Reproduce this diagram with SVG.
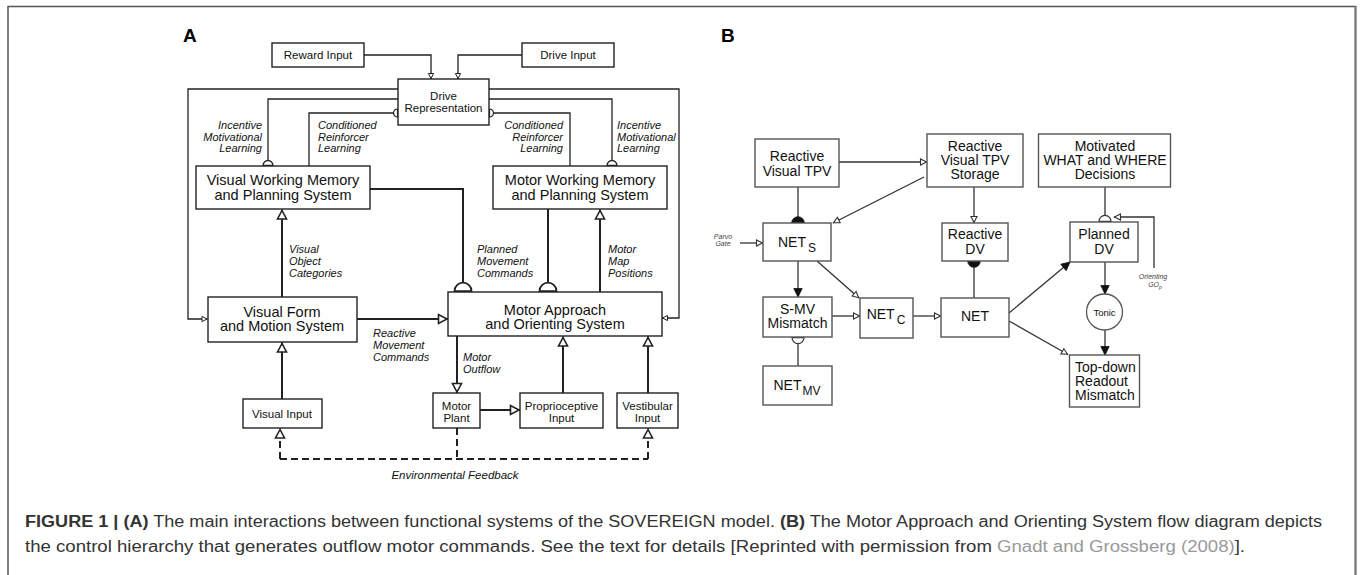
<svg xmlns="http://www.w3.org/2000/svg" width="1360" height="575" viewBox="0 0 1360 575">
  <style>
    text { font-family: "Liberation Sans", Arial, Helvetica, sans-serif; fill: #111; }
    .frame { fill: none; stroke: #555; stroke-width: 1.5; }
    .boxA { fill: #fff; stroke: #222; stroke-width: 1.4; }
    .boxB { fill: #fff; stroke: #555; stroke-width: 1.4; }
    .big { font-size: 14.5px; text-anchor: middle; }
    .small { font-size: 11.5px; text-anchor: middle; }
    .lbl { font-size: 11px; font-style: italic; }
    .mid { font-size: 14px; text-anchor: middle; }
    .tiny { font-size: 7px; font-style: italic; fill: #444; }
    .thin { fill: none; stroke: #222; stroke-width: 1.3; }
    .thick { fill: none; stroke: #222; stroke-width: 2; }
    .dash { fill: none; stroke: #222; stroke-width: 2; stroke-dasharray: 7 4; }
    .lnB { fill: none; stroke: #333; stroke-width: 1.3; }
    .panel { font-size: 19px; font-weight: bold; fill: #000; }
    .cap { font-size: 16px; fill: #333; }
  </style>
  <defs>
    <!-- open triangle, large (panel A main pathways) -->
    <marker id="triA" viewBox="-11 -6 12 12" refX="0" refY="0" markerWidth="12" markerHeight="12" markerUnits="userSpaceOnUse" orient="auto">
      <path d="M-1,0 L-9.5,-4.5 L-9.5,4.5 Z" fill="#fff" stroke="#222" stroke-width="1.6"/>
    </marker>
    <!-- open triangle, small -->
    <marker id="triS" viewBox="-7 -4 8 8" refX="0" refY="0" markerWidth="8" markerHeight="8" markerUnits="userSpaceOnUse" orient="auto">
      <path d="M-0.5,0 L-5.5,-2.6 L-5.5,2.6 Z" fill="#fff" stroke="#222" stroke-width="1"/>
    </marker>
    <!-- open triangle, small (panel B) -->
    <marker id="triB" viewBox="-8 -5 9 10" refX="0" refY="0" markerWidth="9" markerHeight="10" markerUnits="userSpaceOnUse" orient="auto">
      <path d="M-0.5,0 L-6.5,-3 L-6.5,3 Z" fill="#fff" stroke="#333" stroke-width="1.1"/>
    </marker>
    <!-- filled triangle (panel B) -->
    <marker id="triF" viewBox="-10 -6 11 12" refX="0" refY="0" markerWidth="11" markerHeight="12" markerUnits="userSpaceOnUse" orient="auto">
      <path d="M0,0 L-8.5,-4.2 L-8.5,4.2 Z" fill="#111" stroke="#111" stroke-width="0.8"/>
    </marker>
    <!-- half-disc terminals -->
    <marker id="domeS" viewBox="-7 -7 8 14" refX="0" refY="0" markerWidth="8" markerHeight="14" markerUnits="userSpaceOnUse" orient="auto">
      <path d="M-0.5,-5 A5,5 0 0 0 -0.5,5 Z" fill="#fff" stroke="#222" stroke-width="1.3"/>
    </marker>
    <marker id="domeL" viewBox="-11 -11 12 22" refX="0" refY="0" markerWidth="12" markerHeight="22" markerUnits="userSpaceOnUse" orient="auto">
      <path d="M-0.8,-8.5 A8.5,8.5 0 0 0 -0.8,8.5 Z" fill="#fff" stroke="#222" stroke-width="1.8"/>
    </marker>
    <marker id="domeSide" viewBox="-6 -6 7 12" refX="0" refY="0" markerWidth="7" markerHeight="12" markerUnits="userSpaceOnUse" orient="auto">
      <path d="M-0.5,-4 A4,4 0 0 0 -0.5,4 Z" fill="#fff" stroke="#222" stroke-width="1.2"/>
    </marker>
    <marker id="domeF" viewBox="-8 -8 9 16" refX="0" refY="0" markerWidth="9" markerHeight="16" markerUnits="userSpaceOnUse" orient="auto">
      <path d="M0,-6.3 A6.3,6.3 0 0 0 0,6.3 Z" fill="#111" stroke="#111" stroke-width="0.8"/>
    </marker>
    <marker id="domeO" viewBox="-8 -8 9 16" refX="0" refY="0" markerWidth="9" markerHeight="16" markerUnits="userSpaceOnUse" orient="auto">
      <path d="M-0.6,-6 A6,6 0 0 0 -0.6,6 Z" fill="#fff" stroke="#333" stroke-width="1.2"/>
    </marker>
  </defs>

  <rect width="1360" height="575" fill="#fff"/>

  <!-- figure frame -->
  <path class="frame" d="M8,580 V6.5 H1355.5 V580"/>
  <path d="M1355.5,6 V580" stroke="#777" stroke-width="2" fill="none"/>

  <!-- panel letters -->
  <text class="panel" x="183" y="42">A</text>
  <text class="panel" x="721" y="42">B</text>

  <!-- ========== Panel A connectors ========== -->
  <g id="connectors-A">
    <path class="thin" d="M364,55 H431 V79" marker-end="url(#triS)"/>
    <path class="thin" d="M522,55 H458 V79" marker-end="url(#triS)"/>
    <path class="thin" d="M398,89 H188 V319 H207.5" marker-end="url(#triS)"/>
    <path class="thin" d="M489,89 H679 V318 H662" marker-end="url(#triS)"/>
    <path class="thin" d="M398,99 H268 V166" marker-end="url(#domeS)"/>
    <path class="thin" d="M489,99 H612 V166" marker-end="url(#domeS)"/>
    <path class="thin" d="M309,166 V113 H398" marker-end="url(#domeSide)"/>
    <path class="thin" d="M570,166 V113 H489" marker-end="url(#domeSide)"/>
    <path class="thick" d="M370,189 H463 V292" marker-end="url(#domeL)"/>
    <path class="thick" d="M548,209 V292" marker-end="url(#domeL)"/>
    <path class="thick" d="M600,292 V209.5" marker-end="url(#triA)"/>
    <path class="thick" d="M282,297 V209.5" marker-end="url(#triA)"/>
    <path class="thick" d="M357,319 H448" marker-end="url(#triA)"/>
    <path class="thick" d="M457,336 V393" marker-end="url(#triA)"/>
    <path class="thick" d="M480,410 H520" marker-end="url(#triA)"/>
    <path class="thick" d="M563,393 V336.5" marker-end="url(#triA)"/>
    <path class="thick" d="M648,393 V336.5" marker-end="url(#triA)"/>
    <path class="thick" d="M282,399 V342.5" marker-end="url(#triA)"/>
    <path class="dash" d="M457,428 V459 M280,459 H648"/>
    <path class="dash" d="M280,459 V428.5" marker-end="url(#triA)"/>
    <path class="dash" d="M648,459 V428.5" marker-end="url(#triA)"/>
  </g>

  <!-- Panel A connector labels -->
  <g id="labels-A" class="lbl">
    <text x="262" y="129" text-anchor="end">Incentive</text>
    <text x="262" y="141" text-anchor="end">Motivational</text>
    <text x="262" y="152" text-anchor="end">Learning</text>
    <text x="318" y="129">Conditioned</text>
    <text x="318" y="141">Reinforcer</text>
    <text x="318" y="152">Learning</text>
    <text x="563" y="129" text-anchor="end">Conditioned</text>
    <text x="563" y="141" text-anchor="end">Reinforcer</text>
    <text x="563" y="152" text-anchor="end">Learning</text>
    <text x="617" y="129">Incentive</text>
    <text x="617" y="141">Motivational</text>
    <text x="617" y="152">Learning</text>
    <text x="289" y="253">Visual</text>
    <text x="289" y="265">Object</text>
    <text x="289" y="277">Categories</text>
    <text x="477" y="253">Planned</text>
    <text x="477" y="265">Movement</text>
    <text x="477" y="277">Commands</text>
    <text x="608" y="253">Motor</text>
    <text x="608" y="265">Map</text>
    <text x="608" y="277">Positions</text>
    <text x="373" y="337">Reactive</text>
    <text x="373" y="349">Movement</text>
    <text x="373" y="361">Commands</text>
    <text x="463" y="361">Motor</text>
    <text x="463" y="373">Outflow</text>
    <text x="455" y="479" text-anchor="middle" font-size="11.5">Environmental Feedback</text>
  </g>

  <!-- ========== Panel A nodes ========== -->
  <g id="reward-input">
    <rect class="boxA" x="272" y="43" width="92" height="24"/>
    <text class="small" x="318" y="59">Reward Input</text>
  </g>
  <g id="drive-input">
    <rect class="boxA" x="522" y="43" width="92" height="24"/>
    <text class="small" x="568" y="59">Drive Input</text>
  </g>
  <g id="drive-representation">
    <rect class="boxA" x="398" y="79" width="91" height="46"/>
    <text class="small" x="443.5" y="100">Drive</text>
    <text class="small" x="443.5" y="111.5">Representation</text>
  </g>
  <g id="visual-wm">
    <rect class="boxA" x="196" y="166" width="174" height="43"/>
    <text class="big" x="283" y="185">Visual Working Memory</text>
    <text class="big" x="283" y="199.5">and Planning System</text>
  </g>
  <g id="motor-wm">
    <rect class="boxA" x="493" y="166" width="174" height="43"/>
    <text class="big" x="580" y="185">Motor Working Memory</text>
    <text class="big" x="580" y="199.5">and Planning System</text>
  </g>
  <g id="visual-form">
    <rect class="boxA" x="208" y="297" width="149" height="45"/>
    <text class="big" x="282" y="316.5">Visual Form</text>
    <text class="big" x="282" y="331">and Motion System</text>
  </g>
  <g id="motor-approach">
    <rect class="boxA" x="448" y="292" width="214" height="44"/>
    <text class="big" x="555" y="314.5">Motor Approach</text>
    <text class="big" x="555" y="329">and Orienting System</text>
  </g>
  <g id="visual-input">
    <rect class="boxA" x="243" y="399" width="79" height="29"/>
    <text class="small" x="282" y="418">Visual Input</text>
  </g>
  <g id="motor-plant">
    <rect class="boxA" x="433" y="393" width="47" height="35"/>
    <text class="small" x="456.5" y="410">Motor</text>
    <text class="small" x="456.5" y="422">Plant</text>
  </g>
  <g id="proprioceptive-input">
    <rect class="boxA" x="520" y="393" width="83" height="35"/>
    <text class="small" x="561.5" y="410">Proprioceptive</text>
    <text class="small" x="561.5" y="422">Input</text>
  </g>
  <g id="vestibular-input">
    <rect class="boxA" x="617" y="393" width="61" height="35"/>
    <text class="small" x="647.5" y="410">Vestibular</text>
    <text class="small" x="647.5" y="422">Input</text>
  </g>

  <!-- ========== Panel B connectors ========== -->
  <g id="connectors-B">
    <path class="lnB" d="M839,162 H927" marker-end="url(#triB)"/>
    <path class="lnB" d="M924,177 L833,223" marker-end="url(#triB)"/>
    <path class="lnB" d="M798,187 V223" marker-end="url(#domeF)"/>
    <path class="lnB" d="M740,243 H763" marker-end="url(#triB)"/>
    <path class="lnB" d="M974,187 V223" marker-end="url(#triB)"/>
    <path class="lnB" d="M974,298 V261" marker-end="url(#domeF)"/>
    <path class="lnB" d="M798,261 V297" marker-end="url(#triF)"/>
    <path class="lnB" d="M817,261 L859,298" marker-end="url(#triB)"/>
    <path class="lnB" d="M832,316 H860" marker-end="url(#triB)"/>
    <path class="lnB" d="M913,316 H941" marker-end="url(#triB)"/>
    <path class="lnB" d="M1009,313 L1070,262" marker-end="url(#triF)"/>
    <path class="lnB" d="M1009,321 L1068,354.5" marker-end="url(#triB)"/>
    <path class="lnB" d="M1105,187 V222" marker-end="url(#domeO)"/>
    <path class="lnB" d="M1154,268 V217 H1114" marker-end="url(#triB)"/>
    <path class="lnB" d="M1105,262 V294" marker-end="url(#triF)"/>
    <path class="lnB" d="M1105,330 V355" marker-end="url(#triF)"/>
    <path class="lnB" d="M798,366 V337" marker-end="url(#domeO)"/>
  </g>

  <!-- Panel B small labels -->
  <g id="labels-B">
    <text class="tiny" x="723" y="239" text-anchor="middle">Parvo</text>
    <text class="tiny" x="723" y="246" text-anchor="middle">Gate</text>
    <text class="tiny" x="1153" y="279" text-anchor="middle">Orienting</text>
    <text class="tiny" x="1155" y="287" text-anchor="middle">GO<tspan font-size="5" dy="2">p</tspan></text>
  </g>

  <!-- ========== Panel B nodes ========== -->
  <g id="reactive-visual-tpv">
    <rect class="boxB" x="755" y="139" width="84" height="48"/>
    <text class="mid" x="797" y="161">Reactive</text>
    <text class="mid" x="797" y="175.5">Visual TPV</text>
  </g>
  <g id="tpv-storage">
    <rect class="boxB" x="927" y="134" width="96" height="53"/>
    <text class="mid" x="975" y="151">Reactive</text>
    <text class="mid" x="975" y="165">Visual TPV</text>
    <text class="mid" x="975" y="179">Storage</text>
  </g>
  <g id="motivated-decisions">
    <rect class="boxB" x="1038.5" y="134" width="132" height="53"/>
    <text class="mid" x="1105" y="150.5">Motivated</text>
    <text class="mid" x="1105" y="164.5">WHAT and WHERE</text>
    <text class="mid" x="1105" y="179">Decisions</text>
  </g>
  <g id="net-s">
    <rect class="boxB" x="763" y="223" width="68" height="38"/>
    <text class="mid" x="797" y="247">NET<tspan font-size="12" dy="5" dx="2">S</tspan></text>
  </g>
  <g id="reactive-dv">
    <rect class="boxB" x="942" y="223" width="66" height="38"/>
    <text class="mid" x="975" y="239">Reactive</text>
    <text class="mid" x="975" y="253.5">DV</text>
  </g>
  <g id="planned-dv">
    <rect class="boxB" x="1070" y="222" width="68" height="40"/>
    <text class="mid" x="1104" y="239">Planned</text>
    <text class="mid" x="1104" y="253.5">DV</text>
  </g>
  <g id="s-mv-mismatch">
    <rect class="boxB" x="763" y="297" width="69" height="40"/>
    <text class="mid" x="797.5" y="314">S-MV</text>
    <text class="mid" x="797.5" y="328">Mismatch</text>
  </g>
  <g id="net-c">
    <rect class="boxB" x="860" y="298" width="53" height="40"/>
    <text class="mid" x="886" y="319">NET<tspan font-size="12" dy="5" dx="2">C</tspan></text>
  </g>
  <g id="net">
    <rect class="boxB" x="941" y="298" width="68" height="39"/>
    <text class="mid" x="975" y="321">NET</text>
  </g>
  <g id="tonic">
    <circle cx="1104.5" cy="312" r="18" fill="#fff" stroke="#555" stroke-width="1.3"/>
    <text x="1104.5" y="315.5" font-size="9.5" text-anchor="middle">Tonic</text>
  </g>
  <g id="net-mv">
    <rect class="boxB" x="763" y="366" width="69" height="39"/>
    <text class="mid" x="797" y="390">NET<tspan font-size="12" dy="5" dx="1">MV</tspan></text>
  </g>
  <g id="top-down-mismatch">
    <rect class="boxB" x="1069.5" y="355" width="70" height="52"/>
    <text x="1075" y="371.5" font-size="14">Top-down</text>
    <text x="1075" y="385.5" font-size="14">Readout</text>
    <text x="1075" y="399.5" font-size="14">Mismatch</text>
  </g>

  <!-- caption -->
  <g id="caption">
    <text class="cap" x="25" y="527" textLength="1297" lengthAdjust="spacingAndGlyphs"><tspan font-weight="bold">FIGURE 1 | (A)</tspan> The main interactions between functional systems of the SOVEREIGN model. <tspan font-weight="bold">(B)</tspan> The Motor Approach and Orienting System flow diagram depicts</text>
    <text class="cap" x="25" y="552" textLength="1220" lengthAdjust="spacingAndGlyphs">the control hierarchy that generates outflow motor commands. See the text for details [Reprinted with permission from <tspan fill="#999">Gnadt and Grossberg (2008)</tspan>].</text>
  </g>
</svg>
